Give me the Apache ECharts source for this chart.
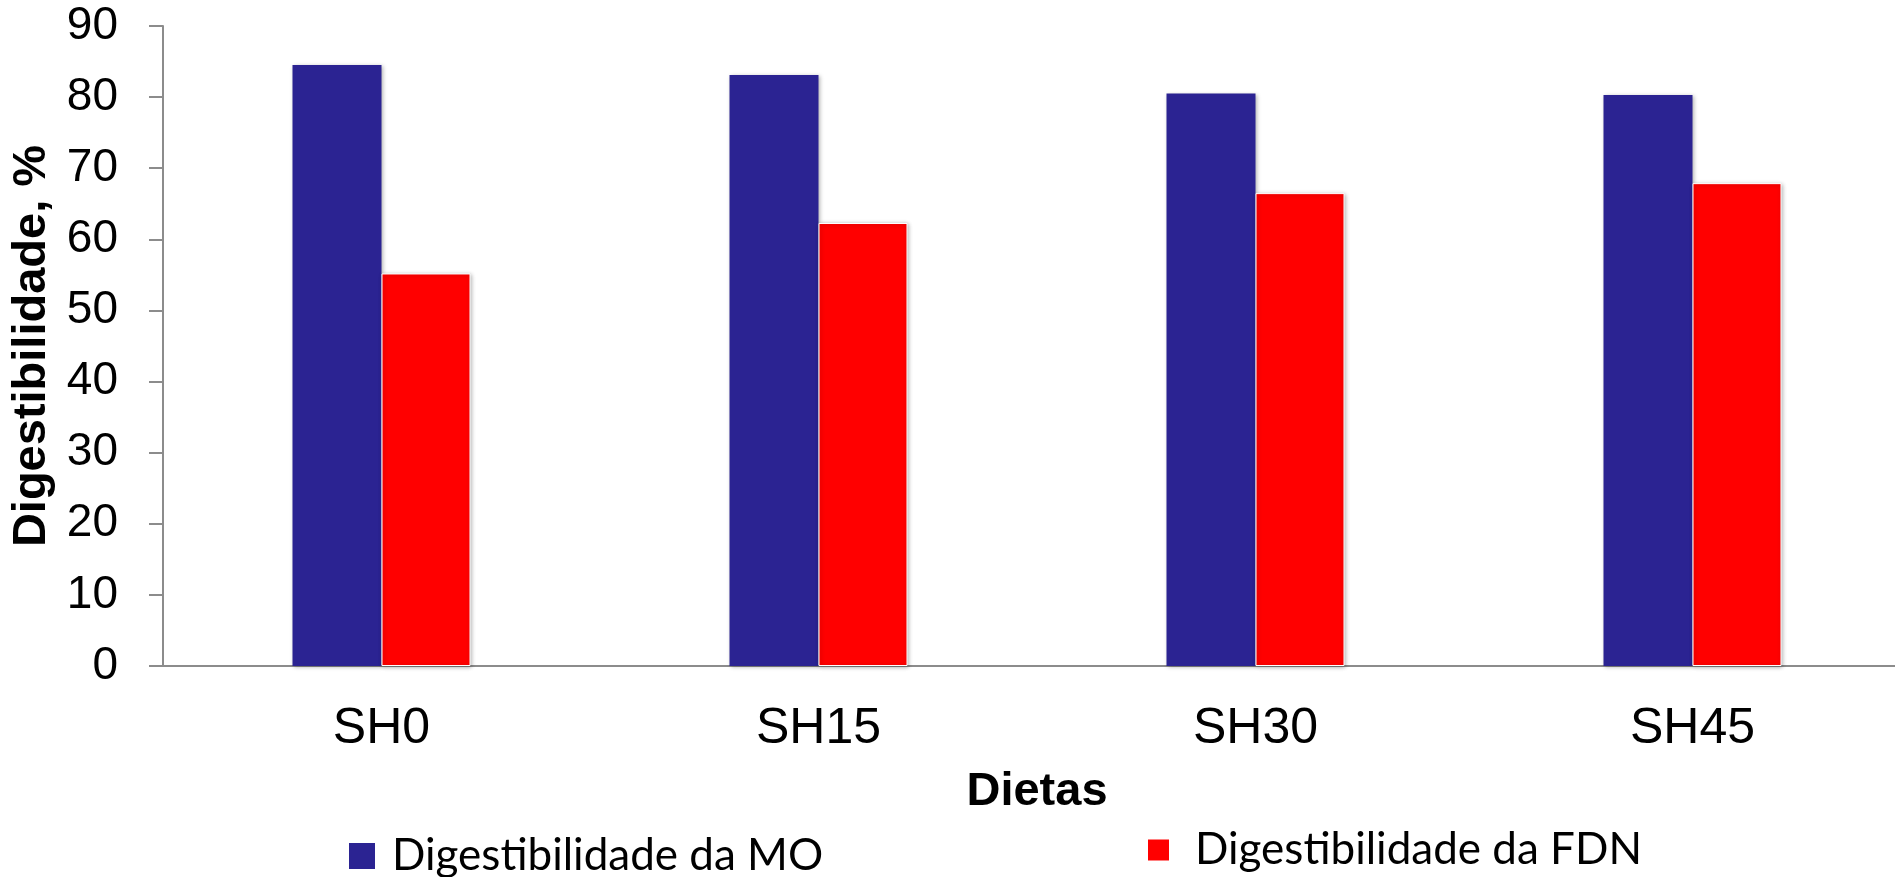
<!DOCTYPE html>
<html>
<head>
<meta charset="utf-8">
<title>Digestibilidade por dieta</title>
<script src="https://cdn.jsdelivr.net/npm/echarts@6/dist/echarts.min.js"></script>
<style>
  html, body { margin: 0; padding: 0; background: #ffffff; }
  #chart { width: 1895px; height: 877px; }
</style>
</head>
<body>
<div id="chart"></div>
<script>
// Diets on the x axis
const categories = ['SH0', 'SH15', 'SH30', 'SH45'];
// Digestibility (%) per diet
const digestMO = [84.5, 83.1, 80.5, 80.3];
const digestFDN = [55.2, 62.3, 66.5, 67.9];
const seriesNames = ['Digestibilidade da MO', 'Digestibilidade da FDN'];
const yTicks = { min: 0, max: 90, interval: 10 };

const BLUE = '#2B2392';
const RED = '#FF0000';
const AXIS_GREY = '#8C8C8C';

const chart = echarts.init(document.getElementById('chart'), null, { renderer: 'canvas' });

const legendText = {
  fontFamily: 'Lato, "Open Sans", sans-serif',
  fontSize: 44,
  color: '#000000'
};

chart.setOption({
  animation: false,
  backgroundColor: '#ffffff',
  // the plot runs slightly past the right edge of the canvas
  grid: { left: 163, top: 26, width: 1748, bottom: 211, containLabel: false, outerBoundsMode: 'none' },
  legend: [
    {
      data: [seriesNames[0]],
      left: 344, top: 829,
      icon: 'rect', itemWidth: 26, itemHeight: 26, itemGap: 0,
      textStyle: Object.assign({ padding: [0, 0, 0, 12] }, legendText)
    },
    {
      data: [seriesNames[1]],
      left: 1141, top: 823,
      icon: 'rect', itemWidth: 23, itemHeight: 23, itemGap: 0,
      textStyle: Object.assign({ padding: [0, 0, 0, 20] }, legendText)
    }
  ],
  xAxis: {
    type: 'category',
    data: categories,
    name: 'Dietas',
    nameLocation: 'middle',
    nameGap: 103,
    nameTextStyle: { fontFamily: 'Arial, "Liberation Sans", sans-serif', fontWeight: 'bold', fontSize: 47, color: '#000' },
    axisLine: { show: true, lineStyle: { color: AXIS_GREY, width: 2 } },
    axisTick: { show: false },
    axisLabel: { fontFamily: 'Arial, "Liberation Sans", sans-serif', fontSize: 50, color: '#000', margin: 38 },
    splitLine: { show: false }
  },
  yAxis: {
    type: 'value',
    min: yTicks.min, max: yTicks.max, interval: yTicks.interval,
    name: 'Digestibilidade, %',
    nameLocation: 'middle',
    nameRotate: 90,
    nameGap: 101,
    nameTextStyle: { fontFamily: 'Arial, "Liberation Sans", sans-serif', fontWeight: 'bold', fontSize: 47, color: '#000' },
    axisLine: { show: true, lineStyle: { color: AXIS_GREY, width: 2 } },
    axisTick: { show: true, inside: false, length: 14, lineStyle: { color: AXIS_GREY, width: 2 } },
    axisLabel: { fontFamily: 'Arial, "Liberation Sans", sans-serif', fontSize: 46, color: '#000', margin: 45 },
    splitLine: { show: false }
  },
  series: [
    {
      name: seriesNames[0],
      type: 'bar',
      data: digestMO,
      barWidth: 89,
      barGap: '0%',
      itemStyle: {
        color: BLUE,
        shadowBlur: 4, shadowColor: 'rgba(0,0,0,0.3)', shadowOffsetX: 1, shadowOffsetY: 1
      }
    },
    {
      name: seriesNames[1],
      type: 'bar',
      data: digestFDN,
      barWidth: 89,
      barGap: '0%',
      itemStyle: {
        color: RED,
        borderColor: '#ffffff', borderWidth: 1,
        shadowBlur: 4, shadowColor: 'rgba(0,0,0,0.3)', shadowOffsetX: 1, shadowOffsetY: 1
      }
    }
  ]
});
</script>
</body>
</html>
